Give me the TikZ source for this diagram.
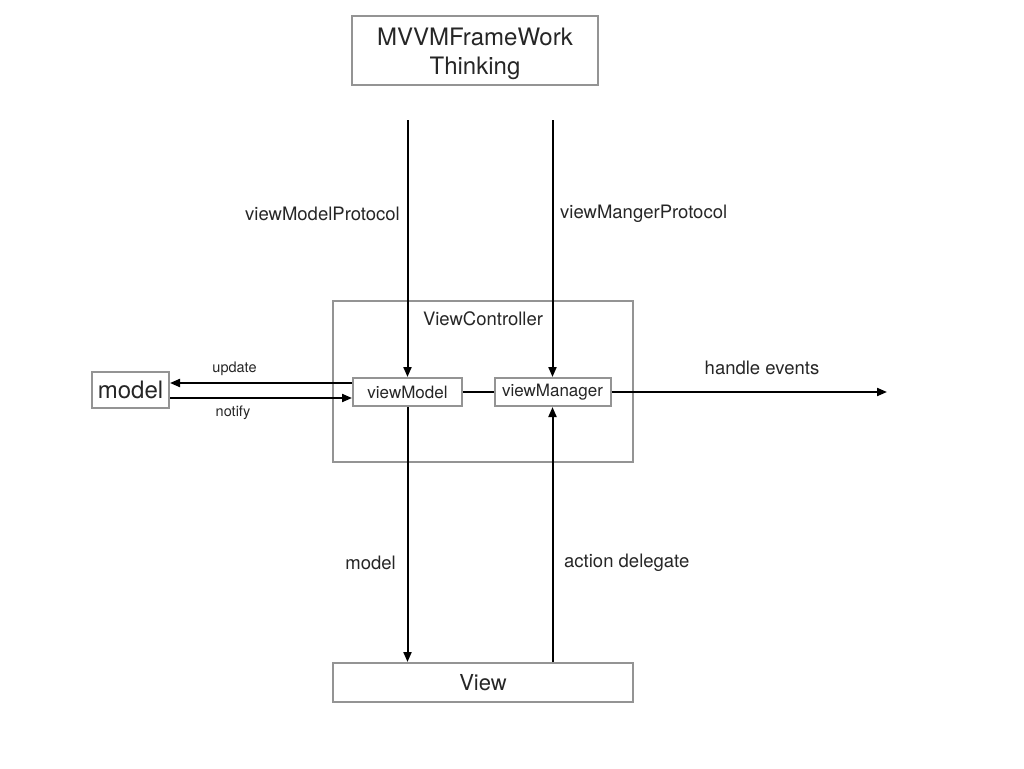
\documentclass[tikz,border=0pt]{standalone}
\usepackage{fontspec}
\setmainfont{TeX Gyre Heros}
\usepackage{tikz}
\usetikzlibrary{arrows,arrows.meta}
\usetikzlibrary{calc, positioning}
\tikzset{
    box/.style={draw=black!42, line width=2pt, fill=white, text=black!85, inner sep=0pt, align=center},
    flow/.style={line width=2pt, -{Triangle[length=10pt,width=8pt]}},
    lbl/.style={text=black!85, inner sep=0pt, font=\fontsize{18.5}{22}\selectfont}
}

\begin{document}
\begin{tikzpicture}[x=1pt, y=-1pt]
    \useasboundingbox (0,0) rectangle (1024,768);
    \node[box, minimum width=246pt, minimum height=69pt] (frame) at (475,50.5) {};
    \node[lbl, align=center, font=\fontsize{24}{29}\selectfont] (frametext) at (475,53.5) {MVVMFrameWork\\Thinking};
    \node[box, minimum width=300pt, minimum height=161pt] (vc) at (483,381.5) {};
    \node[lbl] (vclabel) at (483,319) {ViewController};
    \node[box, minimum width=109pt, minimum height=28pt, font=\fontsize{17}{20}\selectfont] (vmodel) at (407.5,392) {viewModel};
    \node[box, minimum width=116pt, minimum height=28pt, font=\fontsize{17}{20}\selectfont] (vmanager) at (552.5,392) {viewManager};
    \node[box, minimum width=77pt, minimum height=36pt, font=\fontsize{24}{29}\selectfont] (model) at (130.5,390) {model};
    \node[box, minimum width=300pt, minimum height=39pt, font=\fontsize{22}{26}\selectfont] (view) at (483,682.5) {View};
    \coordinate (p1) at (407.5,120);
    \coordinate (p2) at (552.5,120);
    \coordinate (events) at (887,392);
    \draw[flow] (p1) -- (vmodel.north);
    \draw[flow] (p2) -- (vmanager.north);
    \draw[flow] (vmodel.south) -- (vmodel.south |- view.north);
    \draw[flow] (view.north -| vmanager.south) -- (vmanager.south);
    \draw[flow] (vmanager.east) -- (events);
    \draw[line width=2pt] (vmodel.east) -- (vmanager.west);
    \draw[flow] ([yshift=9pt]vmodel.west) -- ([yshift=9pt]vmodel.west -| model.east);
    \draw[flow] ([yshift=-6pt]vmodel.west -| model.east) -- ([yshift=-6pt]vmodel.west);
    \node[lbl, anchor=east] (l1) at (400,214) {viewModelProtocol};
    \node[lbl, anchor=west] (l2) at (560,214) {viewMangerProtocol};
    \node[lbl, anchor=east] (l3) at (396,563) {model};
    \node[lbl, anchor=west] (l4) at (564,563) {action delegate};
    \node[lbl] (l5) at (762,368) {handle events};
    \node[lbl, font=\fontsize{14.5}{17}\selectfont] (l6) at (234.5,369) {update};
    \node[lbl, font=\fontsize{14.5}{17}\selectfont] (l7) at (233,413) {notify};
\end{tikzpicture}
\end{document}
